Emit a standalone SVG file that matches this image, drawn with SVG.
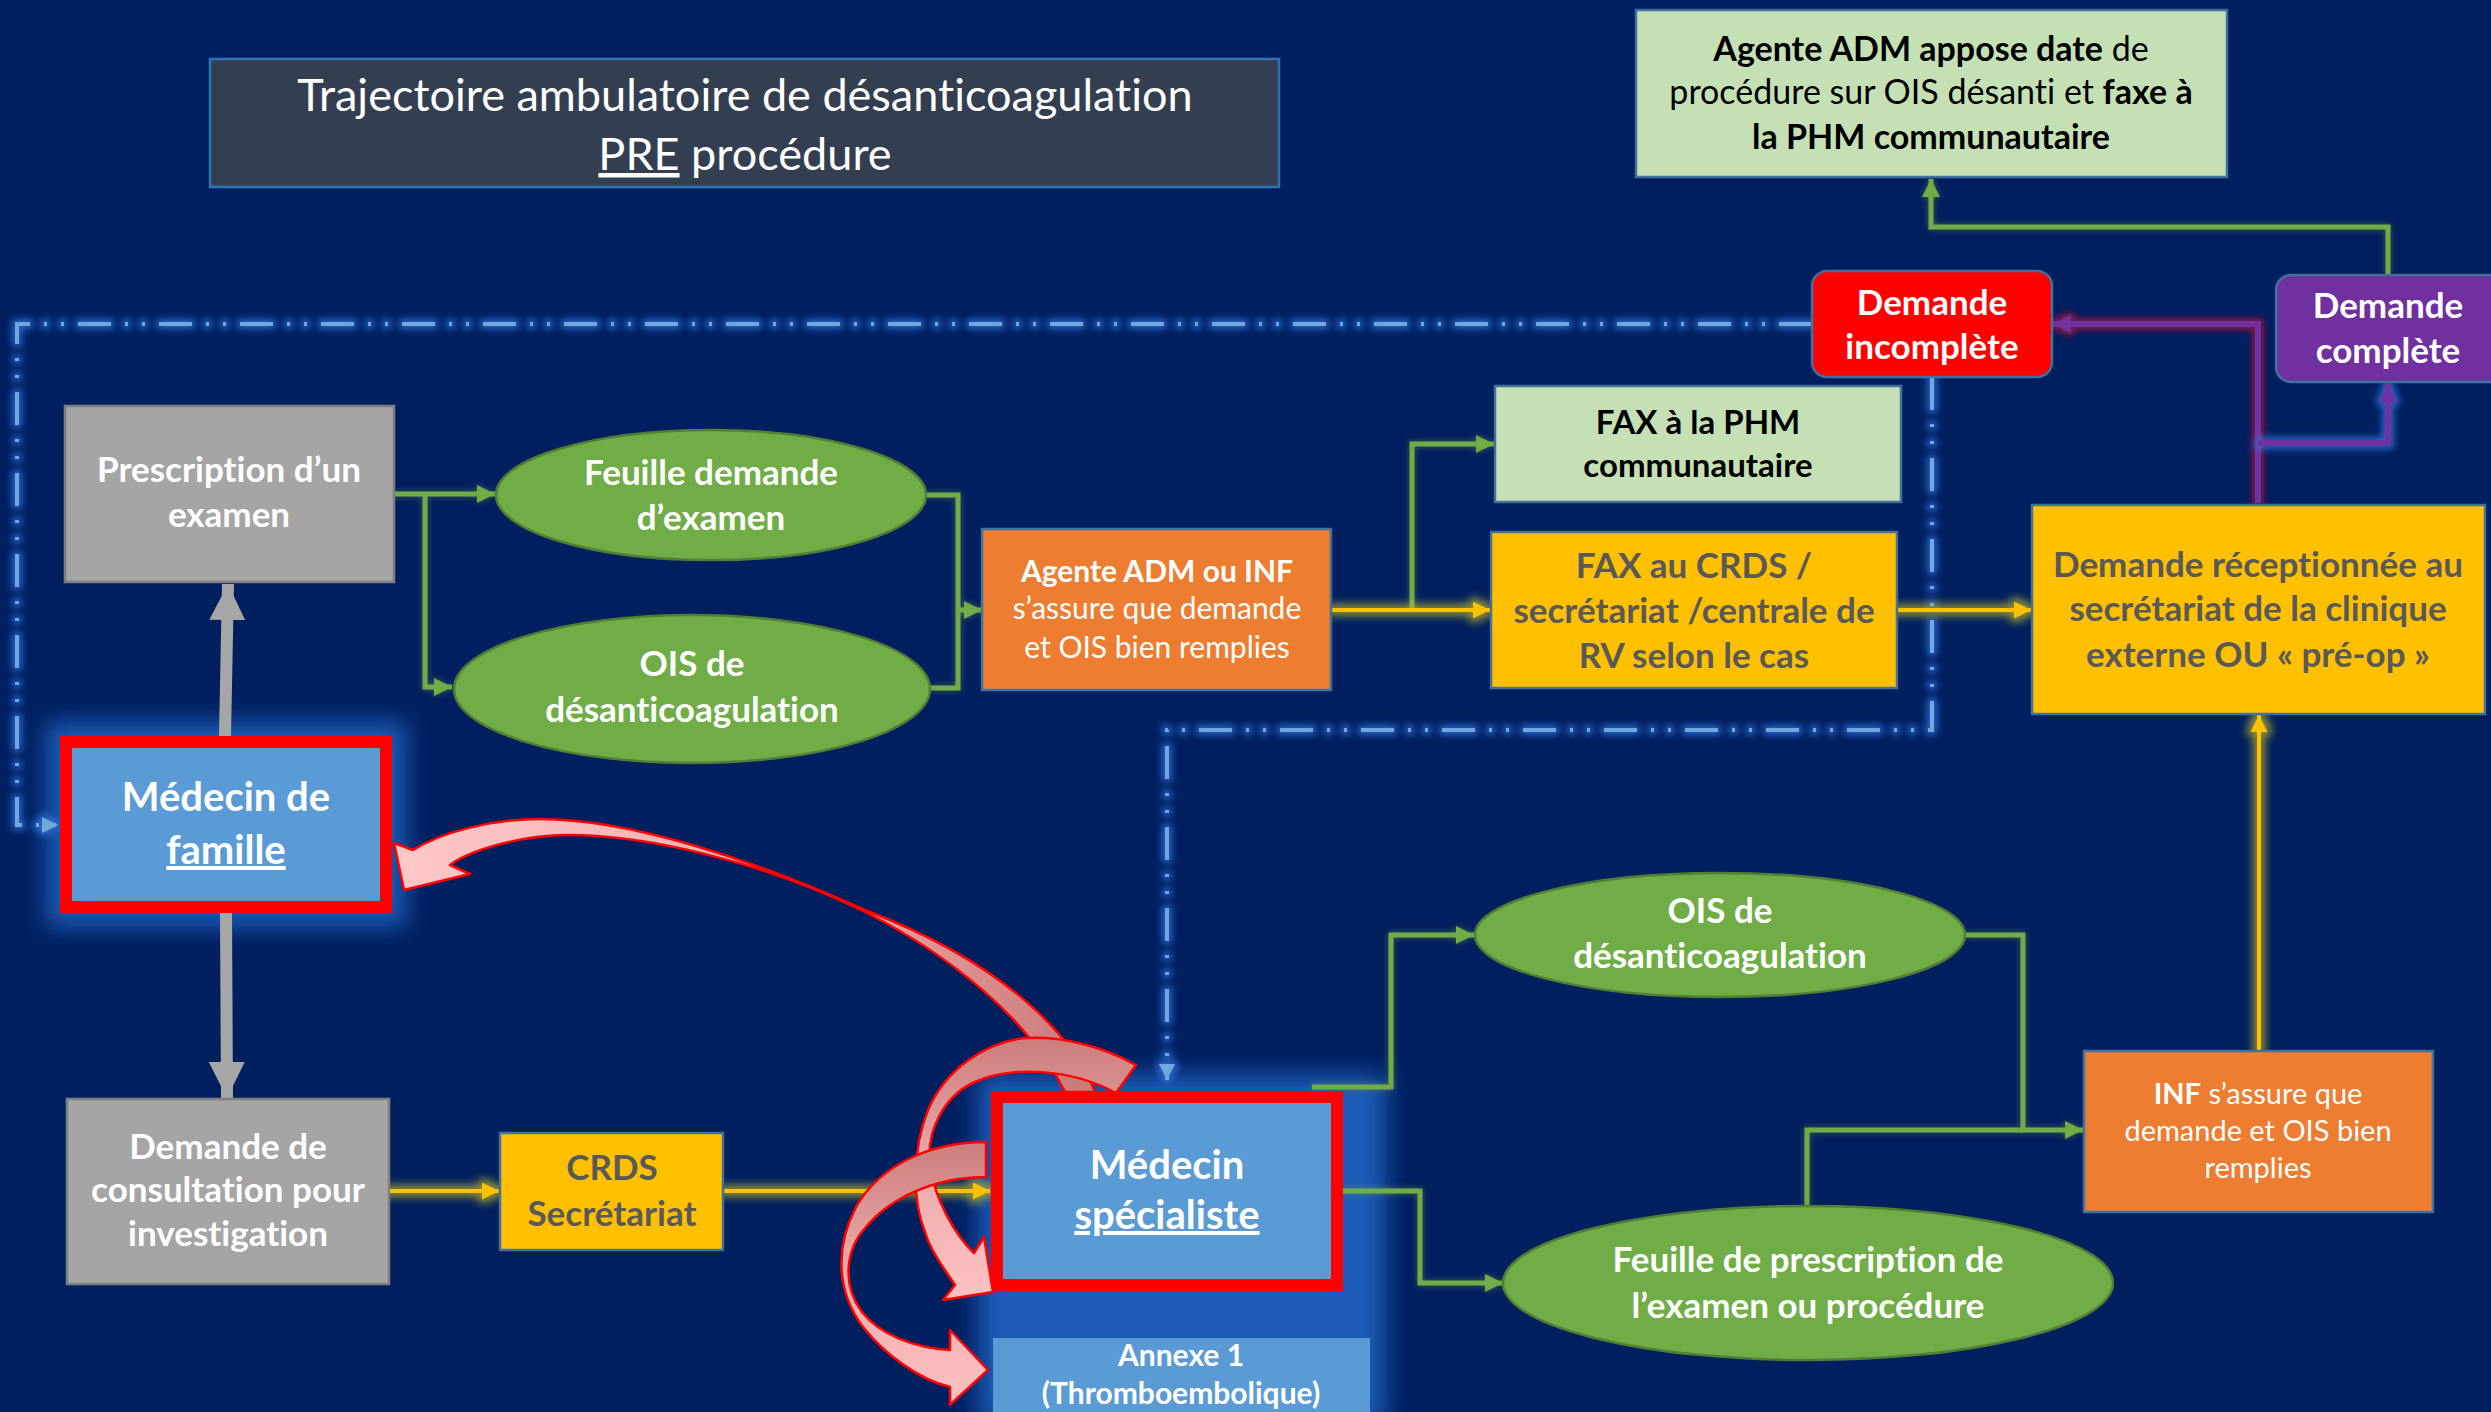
<svg xmlns="http://www.w3.org/2000/svg" width="2491" height="1412" viewBox="0 0 2491 1412">
<style>
.t{font-family:Lato,"Open Sans","Liberation Sans",sans-serif;text-anchor:middle;font-variant-ligatures:none}
.w{fill:#ffffff}
.k{fill:#000000}
.gy{fill:#595959}
.bd{font-weight:700}
.box{stroke:#41719C;stroke-width:2.5}
.lg{fill:#C5E0B4}
.yl{fill:#FFC000}
.or{fill:#ED7D31}
.gr{fill:#A5A5A5;stroke:#7F7F7F;stroke-width:2.5}
.el{fill:#70AD47;stroke:#507E32;stroke-width:2.5}
.cg{fill:none;stroke:#70AD47;stroke-width:5}
.cy{fill:none;stroke:#FFC000;stroke-width:4}
.cp{fill:none;stroke:#7030A0;stroke-width:6}
.cb{fill:none;stroke:#6FA8DC;stroke-width:4;stroke-dasharray:33 14 3 14 3 14}
.cgr{fill:none;stroke:#A6A6A6;stroke-width:12}
.ra{stroke:#FF0000;stroke-width:2.5;stroke-linejoin:round}
</style>
<defs>
<marker id="mg" viewBox="0 0 10 10" refX="10" refY="5" markerWidth="18" markerHeight="18" markerUnits="userSpaceOnUse" orient="auto"><path d="M0,0L10,5L0,10z" fill="#70AD47"/></marker>
<marker id="my" viewBox="0 0 10 10" refX="10" refY="5" markerWidth="17" markerHeight="17" markerUnits="userSpaceOnUse" orient="auto"><path d="M0,0L10,5L0,10z" fill="#FFC000"/></marker>
<marker id="mp" viewBox="0 0 10 10" refX="10" refY="5" markerWidth="18" markerHeight="18" markerUnits="userSpaceOnUse" orient="auto"><path d="M0,0L10,5L0,10z" fill="#7030A0"/></marker>
<marker id="mb" viewBox="0 0 10 10" refX="10" refY="5" markerWidth="16" markerHeight="16" markerUnits="userSpaceOnUse" orient="auto"><path d="M0,0L10,5L0,10z" fill="#6FA8DC"/></marker>
<marker id="mgr" viewBox="0 0 10 10" refX="10" refY="5" markerWidth="36" markerHeight="36" markerUnits="userSpaceOnUse" orient="auto"><path d="M0,0L10,5L0,10z" fill="#A6A6A6"/></marker>
<filter id="fBlue" filterUnits="userSpaceOnUse" x="0" y="0" width="2491" height="1412"><feMorphology in="SourceAlpha" operator="dilate" radius="3" result="d"/><feGaussianBlur in="d" stdDeviation="3.5" result="bl"/><feFlood flood-color="#2E6FD8" flood-opacity="0.85"/><feComposite in2="bl" operator="in" result="c"/><feMerge><feMergeNode in="c"/><feMergeNode in="SourceGraphic"/></feMerge></filter>
<filter id="fYel" filterUnits="userSpaceOnUse" x="0" y="0" width="2491" height="1412"><feMorphology in="SourceAlpha" operator="dilate" radius="4" result="d"/><feGaussianBlur in="d" stdDeviation="4" result="bl"/><feFlood flood-color="#B8B42A" flood-opacity="0.75"/><feComposite in2="bl" operator="in" result="c"/><feMerge><feMergeNode in="c"/><feMergeNode in="SourceGraphic"/></feMerge></filter>
<filter id="fGrn" filterUnits="userSpaceOnUse" x="0" y="0" width="2491" height="1412"><feGaussianBlur in="SourceAlpha" stdDeviation="3" result="bl"/><feFlood flood-color="#8DB84A" flood-opacity="0.45"/><feComposite in2="bl" operator="in" result="c"/><feMerge><feMergeNode in="c"/><feMergeNode in="SourceGraphic"/></feMerge></filter>
<filter id="fRed" filterUnits="userSpaceOnUse" x="0" y="0" width="2491" height="1412"><feMorphology in="SourceAlpha" operator="dilate" radius="3" result="d"/><feGaussianBlur in="d" stdDeviation="3" result="bl"/><feFlood flood-color="#B0103A" flood-opacity="0.75"/><feComposite in2="bl" operator="in" result="c"/><feMerge><feMergeNode in="c"/><feMergeNode in="SourceGraphic"/></feMerge></filter>
<filter id="fBox" filterUnits="userSpaceOnUse" x="0" y="0" width="2491" height="1412"><feGaussianBlur stdDeviation="12"/></filter>
<linearGradient id="gr1" x1="0" y1="0" x2="1" y2="0"><stop offset="0" stop-color="#FFC8C8"/><stop offset="0.6" stop-color="#F0AAAA"/><stop offset="1" stop-color="#C97777"/></linearGradient>
<linearGradient id="gr2" x1="0" y1="0" x2="0" y2="1"><stop offset="0" stop-color="#CD7C7C"/><stop offset="0.45" stop-color="#E8A8A8"/><stop offset="1" stop-color="#FFC2C2"/></linearGradient>
</defs>
<rect x="0" y="0" width="2491" height="1412" fill="#001F5F"/>

<g id="glows">
<rect x="46" y="722" width="360" height="205" fill="#1E5BB8" filter="url(#fBox)"/>
<rect x="978" y="1075" width="408" height="350" fill="#1E5BB8" filter="url(#fBox)"/>
</g>

<g id="connectors">
<g filter="url(#fBlue)">
<path class="cb" d="M1812,324 L17,324 L17,825 L58,825" marker-end="url(#mb)"/>
<path class="cb" d="M1932,377 L1932,730 L1167,730 L1167,1080" marker-end="url(#mb)"/>
</g>
<g filter="url(#fGrn)">
<path class="cg" d="M394,494 L495,494" marker-end="url(#mg)"/>
<path class="cg" d="M425,494 L425,687 L452,687" marker-end="url(#mg)"/>
<path class="cg" d="M927,495 L958,495 L958,688 L930,688"/>
<path class="cg" d="M958,610 L982,610" marker-end="url(#mg)"/>
<path class="cg" d="M1412,610 L1412,444 L1494,444" marker-end="url(#mg)"/>
<path class="cg" d="M2388,275 L2388,227 L1931,227 L1931,179" marker-end="url(#mg)"/>
<path class="cg" d="M1312,1087 L1391,1087 L1391,935 L1474,935" marker-end="url(#mg)"/>
<path class="cg" d="M1342,1191 L1420,1191 L1420,1283 L1503,1283" marker-end="url(#mg)"/>
<path class="cg" d="M1965,935 L2023,935 L2023,1130 L2083,1130" marker-end="url(#mg)"/>
<path class="cg" d="M1807,1205 L1807,1130 L2023,1130"/>
</g>
<g filter="url(#fYel)">
<path class="cy" d="M1331,610 L1490,610" marker-end="url(#my)"/>
<path class="cy" d="M1897,610 L2031,610" marker-end="url(#my)"/>
<path class="cy" d="M2259,1051 L2259,715" marker-end="url(#my)"/>
<path class="cy" d="M389,1191 L499,1191" marker-end="url(#my)"/>
<path class="cy" d="M723,1191 L990,1191" marker-end="url(#my)"/>
</g>
<g filter="url(#fRed)">
<path class="cp" d="M2258,503 L2258,324 L2053,324" marker-end="url(#mp)"/>
</g>
<g filter="url(#fBlue)">
<path class="cp" d="M2258,443 L2388,443 L2388,384" marker-end="url(#mp)"/>
</g>
<path class="cgr" d="M225,736 L228,584" marker-end="url(#mgr)"/>
<path class="cgr" d="M226,913 L227,1098" marker-end="url(#mgr)"/>
</g>

<g id="title">
<rect x="210" y="59" width="1069" height="128" fill="#333F50" stroke="#2E75B6" stroke-width="2.5"/>
<text class="t w" font-size="45" x="745" y="111">Trajectoire ambulatoire de désanticoagulation</text>
<text class="t w" font-size="45" x="745" y="170"><tspan text-decoration="underline">PRE</tspan> procédure</text>
</g>

<g id="agente-appose">
<rect class="box lg" x="1636" y="10" width="591" height="167"/>
<text class="t k" font-size="34" x="1931" y="61"><tspan class="bd">Agente ADM appose date</tspan> de</text>
<text class="t k" font-size="34" x="1931" y="104">procédure sur OIS désanti et <tspan class="bd">faxe à</tspan></text>
<text class="t k bd" font-size="34" x="1931" y="149">la PHM communautaire</text>
</g>

<g id="demande-incomplete">
<rect x="1812" y="271" width="240" height="106" rx="15" fill="#FF0000" stroke="#41719C" stroke-width="2.5"/>
<text class="t w bd" font-size="35" x="1932" y="315">Demande</text>
<text class="t w bd" font-size="35" x="1932" y="359">incomplète</text>
</g>

<g id="demande-complete">
<rect x="2276" y="275" width="235" height="107" rx="15" fill="#7030A0" stroke="#41719C" stroke-width="2.5"/>
<text class="t w bd" font-size="35" x="2388" y="318">Demande</text>
<text class="t w bd" font-size="35" x="2388" y="363">complète</text>
</g>

<g id="fax-phm">
<rect class="box lg" x="1495" y="386" width="406" height="116"/>
<text class="t k bd" font-size="33" x="1698" y="434">FAX à la PHM</text>
<text class="t k bd" font-size="33" x="1698" y="477">communautaire</text>
</g>

<g id="fax-crds">
<rect class="box yl" x="1491" y="532" width="406" height="156"/>
<text class="t gy bd" font-size="35" x="1694" y="578">FAX au CRDS /</text>
<text class="t gy bd" font-size="35" x="1694" y="623">secrétariat /centrale de</text>
<text class="t gy bd" font-size="35" x="1694" y="668">RV selon le cas</text>
</g>

<g id="demande-receptionnee">
<rect class="box yl" x="2032" y="505" width="453" height="209"/>
<text class="t gy bd" font-size="35" x="2258" y="577">Demande réceptionnée au</text>
<text class="t gy bd" font-size="35" x="2258" y="621">secrétariat de la clinique</text>
<text class="t gy bd" font-size="35" x="2258" y="667">externe OU « pré-op »</text>
</g>

<g id="agente-adm-inf">
<rect class="box or" x="982" y="529" width="349" height="161"/>
<text class="t w bd" font-size="30" x="1157" y="582">Agente ADM ou INF</text>
<text class="t w" font-size="30" x="1157" y="619">s’assure que demande</text>
<text class="t w" font-size="30" x="1157" y="658">et OIS bien remplies</text>
</g>

<g id="prescription">
<rect class="gr" x="65" y="406" width="329" height="176"/>
<text class="t w bd" font-size="35" x="229" y="482">Prescription d’un</text>
<text class="t w bd" font-size="35" x="229" y="527">examen</text>
</g>

<g id="feuille-demande">
<ellipse class="el" cx="711" cy="495" rx="215" ry="65"/>
<text class="t w bd" font-size="35" x="711" y="485">Feuille demande</text>
<text class="t w bd" font-size="35" x="711" y="530">d’examen</text>
</g>

<g id="ois-gauche">
<ellipse class="el" cx="692" cy="689" rx="238" ry="74"/>
<text class="t w bd" font-size="35" x="692" y="676">OIS de</text>
<text class="t w bd" font-size="35" x="692" y="722">désanticoagulation</text>
</g>

<g id="medecin-famille">
<rect x="66" y="742" width="320" height="165" fill="#5B9BD5" stroke="#FF0000" stroke-width="12"/>
<text class="t w bd" font-size="40" x="226" y="811">Médecin de</text>
<text class="t w bd" font-size="40" x="226" y="864" text-decoration="underline">famille</text>
</g>

<g id="demande-consultation">
<rect class="gr" x="67" y="1099" width="322" height="185"/>
<text class="t w bd" font-size="35" x="228" y="1159">Demande de</text>
<text class="t w bd" font-size="35" x="228" y="1202">consultation pour</text>
<text class="t w bd" font-size="35" x="228" y="1246">investigation</text>
</g>

<g id="crds">
<rect class="box yl" x="500" y="1133" width="223" height="117"/>
<text class="t gy bd" font-size="35" x="612" y="1180">CRDS</text>
<text class="t gy bd" font-size="35" x="612" y="1226">Secrétariat</text>
</g>

<g id="annexe1">
<rect x="993" y="1338" width="377" height="90" fill="#5B9BD5"/>
<text class="t w bd" font-size="30" x="1181" y="1366">Annexe 1</text>
<text class="t w bd" font-size="30" x="1181" y="1404">(Thromboembolique)</text>
</g>

<g id="medecin-specialiste">
<rect x="997" y="1097" width="340" height="188" fill="#5B9BD5" stroke="#FF0000" stroke-width="12"/>
<text class="t w bd" font-size="40" x="1167" y="1179">Médecin</text>
<text class="t w bd" font-size="40" x="1167" y="1229" text-decoration="underline">spécialiste</text>
</g>

<g id="ois-droite">
<ellipse class="el" cx="1720" cy="935" rx="245" ry="62"/>
<text class="t w bd" font-size="35" x="1720" y="923">OIS de</text>
<text class="t w bd" font-size="35" x="1720" y="968">désanticoagulation</text>
</g>

<g id="feuille-prescription">
<ellipse class="el" cx="1808" cy="1283" rx="305" ry="77"/>
<text class="t w bd" font-size="35" x="1808" y="1272">Feuille de prescription de</text>
<text class="t w bd" font-size="35" x="1808" y="1318">l’examen ou procédure</text>
</g>

<g id="inf-assure">
<rect class="box or" x="2084" y="1051" width="349" height="161"/>
<text class="t w" font-size="29" x="2258" y="1104"><tspan class="bd">INF</tspan> s’assure que</text>
<text class="t w" font-size="29" x="2258" y="1141">demande et OIS bien</text>
<text class="t w" font-size="29" x="2258" y="1178">remplies</text>
</g>

<g id="curved-arrows">
<path class="ra" fill="url(#gr1)" d="M1095,1092 C1075,1040 1010,965 865,910 C755,860 630,819 540,819 C490,819 440,833 413,850 L394,843 L404,890 L470,874 L450,865 C470,850 520,836 564,835 C640,834 760,860 865,912 C950,955 1030,1020 1065,1092 Z"/>
<path class="ra" fill="url(#gr2)" d="M1136,1065 C1100,1045 1060,1036 1025,1038 C985,1042 945,1070 928,1110 C912,1150 912,1200 925,1232 C930,1250 945,1270 955,1285 L943,1300 L993,1292 L984,1237 L974,1253 C955,1235 935,1200 930,1165 C926,1130 945,1095 975,1082 C1010,1066 1070,1068 1116,1093 Z"/>
<path class="ra" fill="url(#gr2)" d="M986,1142 C930,1142 880,1165 856,1207 C836,1245 835,1290 863,1327 C885,1355 920,1380 950,1387 L950,1405 L988,1370 L950,1330 L950,1350 C915,1348 880,1335 862,1312 C842,1285 845,1250 866,1227 C890,1198 935,1177 986,1177 Z"/>
</g>
</svg>
